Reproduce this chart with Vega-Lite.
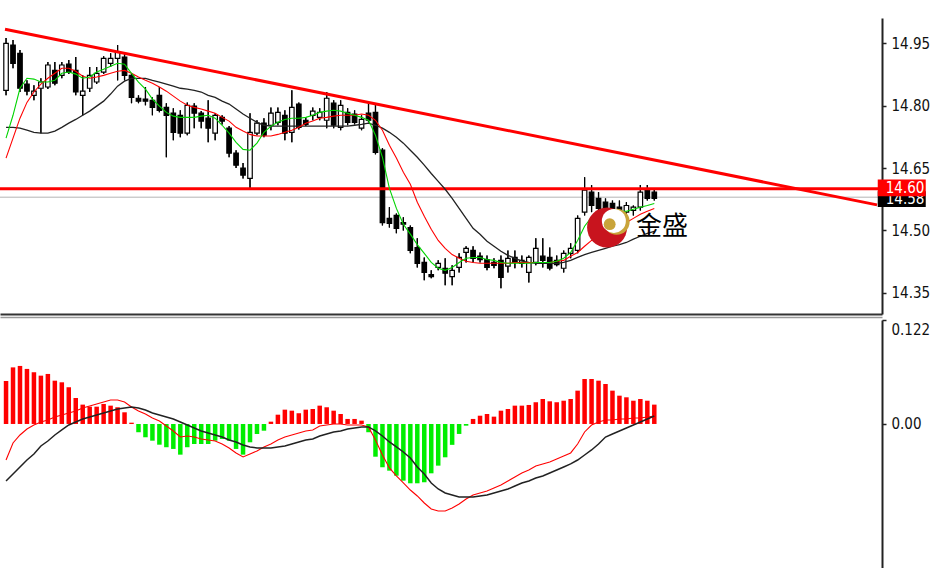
{
  "$schema": "https://vega.github.io/schema/vega-lite/v6.json",
  "background": "white",
  "padding": {"left": 0, "top": 18, "right": 0, "bottom": 0},
  "bounds": "flush",
  "spacing": 6,
  "config": {
    "view": {"stroke": null},
    "axis": {
      "labelFont": "DejaVu Sans Condensed, DejaVu Sans",
      "labelFontSize": 15,
      "labelColor": "#111111",
      "domainColor": "#222222",
      "domainWidth": 2,
      "tickColor": "#222222",
      "tickWidth": 1.5,
      "tickSize": 4,
      "labelPadding": 5,
      "grid": false
    }
  },
  "datasets": {
    "bars": [
      {"i":0,"o":14.837,"h":14.963,"l":14.825,"c":14.950,"fast":14.722,"mid":14.674,"slow":14.748,"hist":0.0505,"dif":-0.0423,"dea":-0.0669},
      {"i":1,"o":14.946,"h":14.958,"l":14.890,"c":14.902,"fast":14.777,"mid":14.722,"slow":14.748,"hist":0.0664,"dif":-0.0223,"dea":-0.0587},
      {"i":2,"o":14.926,"h":14.934,"l":14.833,"c":14.842,"fast":14.842,"mid":14.770,"slow":14.746,"hist":0.0681,"dif":-0.0129,"dea":-0.0505},
      {"i":3,"o":14.852,"h":14.861,"l":14.825,"c":14.835,"fast":14.866,"mid":14.808,"slow":14.741,"hist":0.0646,"dif":-0.0059,"dea":-0.0423},
      {"i":4,"o":14.825,"h":14.849,"l":14.813,"c":14.835,"fast":14.864,"mid":14.833,"slow":14.736,"hist":0.0607,"dif":-0.0012,"dea":-0.0352},
      {"i":5,"o":14.842,"h":14.866,"l":14.734,"c":14.857,"fast":14.857,"mid":14.852,"slow":14.734,"hist":0.0567,"dif":0.0023,"dea":-0.0258},
      {"i":6,"o":14.845,"h":14.905,"l":14.840,"c":14.898,"fast":14.857,"mid":14.866,"slow":14.734,"hist":0.0587,"dif":0.0047,"dea":-0.0200},
      {"i":7,"o":14.885,"h":14.905,"l":14.849,"c":14.854,"fast":14.861,"mid":14.878,"slow":14.739,"hist":0.0508,"dif":0.0082,"dea":-0.0129},
      {"i":8,"o":14.873,"h":14.905,"l":14.866,"c":14.898,"fast":14.878,"mid":14.890,"slow":14.748,"hist":0.0489,"dif":0.0106,"dea":-0.0070},
      {"i":9,"o":14.900,"h":14.910,"l":14.876,"c":14.881,"fast":14.881,"mid":14.890,"slow":14.758,"hist":0.0431,"dif":0.0129,"dea":-0.0012},
      {"i":10,"o":14.885,"h":14.917,"l":14.825,"c":14.833,"fast":14.876,"mid":14.883,"slow":14.767,"hist":0.0305,"dif":0.0153,"dea":0.0023},
      {"i":11,"o":14.825,"h":14.873,"l":14.777,"c":14.835,"fast":14.866,"mid":14.871,"slow":14.777,"hist":0.0227,"dif":0.0188,"dea":0.0059},
      {"i":12,"o":14.842,"h":14.893,"l":14.833,"c":14.873,"fast":14.869,"mid":14.866,"slow":14.787,"hist":0.0203,"dif":0.0211,"dea":0.0082},
      {"i":13,"o":14.857,"h":14.893,"l":14.852,"c":14.878,"fast":14.881,"mid":14.869,"slow":14.799,"hist":0.0203,"dif":0.0235,"dea":0.0106},
      {"i":14,"o":14.881,"h":14.919,"l":14.876,"c":14.914,"fast":14.888,"mid":14.873,"slow":14.811,"hist":0.0235,"dif":0.0258,"dea":0.0129},
      {"i":15,"o":14.902,"h":14.926,"l":14.893,"c":14.914,"fast":14.895,"mid":14.878,"slow":14.828,"hist":0.0215,"dif":0.0282,"dea":0.0153},
      {"i":16,"o":14.914,"h":14.946,"l":14.861,"c":14.929,"fast":14.902,"mid":14.883,"slow":14.847,"hist":0.0196,"dif":0.0282,"dea":0.0176},
      {"i":17,"o":14.917,"h":14.926,"l":14.861,"c":14.873,"fast":14.900,"mid":14.885,"slow":14.859,"hist":0.0137,"dif":0.0258,"dea":0.0188},
      {"i":18,"o":14.873,"h":14.878,"l":14.806,"c":14.820,"fast":14.878,"mid":14.878,"slow":14.866,"hist":0.0015,"dif":0.0200,"dea":0.0200},
      {"i":19,"o":14.818,"h":14.825,"l":14.806,"c":14.811,"fast":14.857,"mid":14.869,"slow":14.866,"hist":-0.0097,"dif":0.0153,"dea":0.0188},
      {"i":20,"o":14.816,"h":14.845,"l":14.801,"c":14.811,"fast":14.840,"mid":14.861,"slow":14.866,"hist":-0.0156,"dif":0.0117,"dea":0.0164},
      {"i":21,"o":14.813,"h":14.820,"l":14.777,"c":14.796,"fast":14.816,"mid":14.854,"slow":14.861,"hist":-0.0196,"dif":0.0070,"dea":0.0129},
      {"i":22,"o":14.825,"h":14.845,"l":14.784,"c":14.789,"fast":14.799,"mid":14.845,"slow":14.857,"hist":-0.0243,"dif":0.0035,"dea":0.0106},
      {"i":23,"o":14.796,"h":14.806,"l":14.676,"c":14.777,"fast":14.784,"mid":14.835,"slow":14.852,"hist":-0.0273,"dif":-0.0023,"dea":0.0082},
      {"i":24,"o":14.782,"h":14.794,"l":14.717,"c":14.736,"fast":14.775,"mid":14.823,"slow":14.847,"hist":-0.0293,"dif":-0.0082,"dea":0.0059},
      {"i":25,"o":14.777,"h":14.789,"l":14.724,"c":14.734,"fast":14.772,"mid":14.811,"slow":14.842,"hist":-0.0360,"dif":-0.0153,"dea":0.0023},
      {"i":26,"o":14.734,"h":14.808,"l":14.729,"c":14.801,"fast":14.772,"mid":14.801,"slow":14.840,"hist":-0.0273,"dif":-0.0141,"dea":-0.0012},
      {"i":27,"o":14.799,"h":14.806,"l":14.746,"c":14.782,"fast":14.772,"mid":14.796,"slow":14.837,"hist":-0.0235,"dif":-0.0153,"dea":-0.0047},
      {"i":28,"o":14.782,"h":14.787,"l":14.746,"c":14.763,"fast":14.775,"mid":14.792,"slow":14.833,"hist":-0.0235,"dif":-0.0176,"dea":-0.0082},
      {"i":29,"o":14.770,"h":14.813,"l":14.712,"c":14.746,"fast":14.777,"mid":14.787,"slow":14.825,"hist":-0.0235,"dif":-0.0188,"dea":-0.0106},
      {"i":30,"o":14.734,"h":14.782,"l":14.717,"c":14.777,"fast":14.770,"mid":14.782,"slow":14.820,"hist":-0.0196,"dif":-0.0200,"dea":-0.0129},
      {"i":31,"o":14.772,"h":14.777,"l":14.755,"c":14.763,"fast":14.753,"mid":14.772,"slow":14.811,"hist":-0.0176,"dif":-0.0235,"dea":-0.0153},
      {"i":32,"o":14.746,"h":14.751,"l":14.676,"c":14.686,"fast":14.734,"mid":14.763,"slow":14.804,"hist":-0.0196,"dif":-0.0282,"dea":-0.0188},
      {"i":33,"o":14.686,"h":14.693,"l":14.650,"c":14.657,"fast":14.712,"mid":14.748,"slow":14.792,"hist":-0.0293,"dif":-0.0340,"dea":-0.0211},
      {"i":34,"o":14.650,"h":14.662,"l":14.625,"c":14.633,"fast":14.695,"mid":14.739,"slow":14.780,"hist":-0.0360,"dif":-0.0387,"dea":-0.0246},
      {"i":35,"o":14.625,"h":14.782,"l":14.597,"c":14.736,"fast":14.693,"mid":14.731,"slow":14.770,"hist":-0.0215,"dif":-0.0352,"dea":-0.0270},
      {"i":36,"o":14.734,"h":14.765,"l":14.729,"c":14.758,"fast":14.710,"mid":14.727,"slow":14.760,"hist":-0.0117,"dif":-0.0317,"dea":-0.0282},
      {"i":37,"o":14.758,"h":14.770,"l":14.724,"c":14.729,"fast":14.736,"mid":14.727,"slow":14.753,"hist":-0.0079,"dif":-0.0270,"dea":-0.0282},
      {"i":38,"o":14.753,"h":14.796,"l":14.741,"c":14.782,"fast":14.751,"mid":14.727,"slow":14.751,"hist":0.0027,"dif":-0.0235,"dea":-0.0282},
      {"i":39,"o":14.760,"h":14.796,"l":14.753,"c":14.784,"fast":14.760,"mid":14.731,"slow":14.751,"hist":0.0109,"dif":-0.0188,"dea":-0.0270},
      {"i":40,"o":14.777,"h":14.789,"l":14.717,"c":14.734,"fast":14.767,"mid":14.736,"slow":14.751,"hist":0.0168,"dif":-0.0153,"dea":-0.0258},
      {"i":41,"o":14.736,"h":14.837,"l":14.712,"c":14.796,"fast":14.770,"mid":14.741,"slow":14.751,"hist":0.0156,"dif":-0.0129,"dea":-0.0235},
      {"i":42,"o":14.804,"h":14.808,"l":14.743,"c":14.748,"fast":14.770,"mid":14.748,"slow":14.751,"hist":0.0126,"dif":-0.0106,"dea":-0.0211},
      {"i":43,"o":14.765,"h":14.772,"l":14.751,"c":14.755,"fast":14.772,"mid":14.758,"slow":14.751,"hist":0.0168,"dif":-0.0082,"dea":-0.0188},
      {"i":44,"o":14.777,"h":14.796,"l":14.765,"c":14.787,"fast":14.777,"mid":14.763,"slow":14.751,"hist":0.0176,"dif":-0.0070,"dea":-0.0176},
      {"i":45,"o":14.772,"h":14.794,"l":14.765,"c":14.784,"fast":14.784,"mid":14.770,"slow":14.751,"hist":0.0215,"dif":-0.0023,"dea":-0.0141},
      {"i":46,"o":14.765,"h":14.833,"l":14.746,"c":14.818,"fast":14.787,"mid":14.772,"slow":14.751,"hist":0.0196,"dif":-0.0012,"dea":-0.0117},
      {"i":47,"o":14.806,"h":14.813,"l":14.746,"c":14.753,"fast":14.789,"mid":14.775,"slow":14.751,"hist":0.0156,"dif":0.0000,"dea":-0.0094},
      {"i":48,"o":14.748,"h":14.813,"l":14.741,"c":14.801,"fast":14.787,"mid":14.777,"slow":14.751,"hist":0.0117,"dif":0.0000,"dea":-0.0082},
      {"i":49,"o":14.784,"h":14.794,"l":14.753,"c":14.760,"fast":14.782,"mid":14.777,"slow":14.751,"hist":0.0059,"dif":-0.0012,"dea":-0.0059},
      {"i":50,"o":14.780,"h":14.789,"l":14.755,"c":14.760,"fast":14.777,"mid":14.777,"slow":14.753,"hist":0.0059,"dif":-0.0012,"dea":-0.0047},
      {"i":51,"o":14.746,"h":14.777,"l":14.741,"c":14.767,"fast":14.772,"mid":14.780,"slow":14.755,"hist":0.0039,"dif":-0.0012,"dea":-0.0035},
      {"i":52,"o":14.782,"h":14.806,"l":14.760,"c":14.765,"fast":14.765,"mid":14.777,"slow":14.758,"hist":-0.0097,"dif":-0.0035,"dea":-0.0035},
      {"i":53,"o":14.784,"h":14.806,"l":14.683,"c":14.688,"fast":14.729,"mid":14.765,"slow":14.753,"hist":-0.0384,"dif":-0.0188,"dea":-0.0082},
      {"i":54,"o":14.693,"h":14.698,"l":14.512,"c":14.519,"fast":14.676,"mid":14.741,"slow":14.746,"hist":-0.0508,"dif":-0.0364,"dea":-0.0141},
      {"i":55,"o":14.529,"h":14.556,"l":14.507,"c":14.517,"fast":14.601,"mid":14.705,"slow":14.736,"hist":-0.0548,"dif":-0.0516,"dea":-0.0211},
      {"i":56,"o":14.536,"h":14.541,"l":14.493,"c":14.505,"fast":14.553,"mid":14.674,"slow":14.724,"hist":-0.0607,"dif":-0.0610,"dea":-0.0270},
      {"i":57,"o":14.519,"h":14.532,"l":14.500,"c":14.515,"fast":14.515,"mid":14.640,"slow":14.710,"hist":-0.0665,"dif":-0.0692,"dea":-0.0329},
      {"i":58,"o":14.507,"h":14.512,"l":14.445,"c":14.452,"fast":14.491,"mid":14.611,"slow":14.693,"hist":-0.0696,"dif":-0.0775,"dea":-0.0399},
      {"i":59,"o":14.459,"h":14.481,"l":14.411,"c":14.421,"fast":14.466,"mid":14.568,"slow":14.676,"hist":-0.0696,"dif":-0.0845,"dea":-0.0505},
      {"i":60,"o":14.423,"h":14.435,"l":14.380,"c":14.399,"fast":14.445,"mid":14.534,"slow":14.657,"hist":-0.0684,"dif":-0.0927,"dea":-0.0587},
      {"i":61,"o":14.394,"h":14.404,"l":14.385,"c":14.389,"fast":14.423,"mid":14.503,"slow":14.637,"hist":-0.0579,"dif":-0.0998,"dea":-0.0692},
      {"i":62,"o":14.411,"h":14.428,"l":14.404,"c":14.421,"fast":14.409,"mid":14.476,"slow":14.618,"hist":-0.0489,"dif":-0.1021,"dea":-0.0763},
      {"i":63,"o":14.409,"h":14.433,"l":14.368,"c":14.397,"fast":14.404,"mid":14.457,"slow":14.599,"hist":-0.0391,"dif":-0.1021,"dea":-0.0810},
      {"i":64,"o":14.389,"h":14.416,"l":14.368,"c":14.404,"fast":14.411,"mid":14.442,"slow":14.577,"hist":-0.0245,"dif":-0.0986,"dea":-0.0833},
      {"i":65,"o":14.411,"h":14.445,"l":14.399,"c":14.435,"fast":14.423,"mid":14.433,"slow":14.553,"hist":-0.0117,"dif":-0.0939,"dea":-0.0857},
      {"i":66,"o":14.447,"h":14.462,"l":14.423,"c":14.457,"fast":14.433,"mid":14.426,"slow":14.529,"hist":-0.0020,"dif":-0.0880,"dea":-0.0857},
      {"i":67,"o":14.452,"h":14.462,"l":14.423,"c":14.433,"fast":14.435,"mid":14.423,"slow":14.505,"hist":0.0059,"dif":-0.0833,"dea":-0.0857},
      {"i":68,"o":14.438,"h":14.447,"l":14.423,"c":14.430,"fast":14.435,"mid":14.421,"slow":14.491,"hist":0.0097,"dif":-0.0810,"dea":-0.0845},
      {"i":69,"o":14.430,"h":14.440,"l":14.404,"c":14.411,"fast":14.430,"mid":14.421,"slow":14.474,"hist":0.0117,"dif":-0.0786,"dea":-0.0833},
      {"i":70,"o":14.423,"h":14.433,"l":14.409,"c":14.416,"fast":14.428,"mid":14.421,"slow":14.462,"hist":0.0086,"dif":-0.0751,"dea":-0.0810},
      {"i":71,"o":14.428,"h":14.440,"l":14.361,"c":14.387,"fast":14.423,"mid":14.421,"slow":14.450,"hist":0.0156,"dif":-0.0716,"dea":-0.0786},
      {"i":72,"o":14.414,"h":14.452,"l":14.399,"c":14.433,"fast":14.421,"mid":14.421,"slow":14.440,"hist":0.0176,"dif":-0.0669,"dea":-0.0763},
      {"i":73,"o":14.435,"h":14.452,"l":14.409,"c":14.423,"fast":14.421,"mid":14.423,"slow":14.433,"hist":0.0215,"dif":-0.0622,"dea":-0.0728},
      {"i":74,"o":14.421,"h":14.440,"l":14.411,"c":14.428,"fast":14.421,"mid":14.423,"slow":14.426,"hist":0.0215,"dif":-0.0575,"dea":-0.0692},
      {"i":75,"o":14.399,"h":14.440,"l":14.375,"c":14.435,"fast":14.421,"mid":14.423,"slow":14.423,"hist":0.0223,"dif":-0.0540,"dea":-0.0669},
      {"i":76,"o":14.423,"h":14.481,"l":14.416,"c":14.457,"fast":14.423,"mid":14.423,"slow":14.421,"hist":0.0255,"dif":-0.0493,"dea":-0.0634},
      {"i":77,"o":14.438,"h":14.481,"l":14.411,"c":14.428,"fast":14.423,"mid":14.423,"slow":14.421,"hist":0.0293,"dif":-0.0469,"dea":-0.0610},
      {"i":78,"o":14.435,"h":14.459,"l":14.404,"c":14.409,"fast":14.423,"mid":14.423,"slow":14.421,"hist":0.0266,"dif":-0.0446,"dea":-0.0575},
      {"i":79,"o":14.428,"h":14.440,"l":14.414,"c":14.418,"fast":14.426,"mid":14.426,"slow":14.421,"hist":0.0255,"dif":-0.0411,"dea":-0.0540},
      {"i":80,"o":14.409,"h":14.452,"l":14.399,"c":14.445,"fast":14.433,"mid":14.428,"slow":14.423,"hist":0.0273,"dif":-0.0376,"dea":-0.0505},
      {"i":81,"o":14.445,"h":14.469,"l":14.433,"c":14.457,"fast":14.447,"mid":14.438,"slow":14.428,"hist":0.0293,"dif":-0.0340,"dea":-0.0469},
      {"i":82,"o":14.452,"h":14.536,"l":14.445,"c":14.529,"fast":14.476,"mid":14.447,"slow":14.435,"hist":0.0391,"dif":-0.0235,"dea":-0.0423},
      {"i":83,"o":14.544,"h":14.628,"l":14.536,"c":14.597,"fast":14.510,"mid":14.462,"slow":14.442,"hist":0.0528,"dif":-0.0094,"dea":-0.0364},
      {"i":84,"o":14.592,"h":14.609,"l":14.544,"c":14.560,"fast":14.532,"mid":14.476,"slow":14.447,"hist":0.0528,"dif":-0.0012,"dea":-0.0305},
      {"i":85,"o":14.577,"h":14.592,"l":14.544,"c":14.553,"fast":14.541,"mid":14.486,"slow":14.452,"hist":0.0508,"dif":0.0023,"dea":-0.0235},
      {"i":86,"o":14.568,"h":14.577,"l":14.536,"c":14.544,"fast":14.546,"mid":14.495,"slow":14.457,"hist":0.0469,"dif":0.0047,"dea":-0.0153},
      {"i":87,"o":14.565,"h":14.572,"l":14.532,"c":14.541,"fast":14.546,"mid":14.505,"slow":14.462,"hist":0.0391,"dif":0.0047,"dea":-0.0117},
      {"i":88,"o":14.556,"h":14.572,"l":14.524,"c":14.534,"fast":14.546,"mid":14.512,"slow":14.466,"hist":0.0332,"dif":0.0059,"dea":-0.0082},
      {"i":89,"o":14.544,"h":14.568,"l":14.532,"c":14.560,"fast":14.546,"mid":14.519,"slow":14.471,"hist":0.0313,"dif":0.0059,"dea":-0.0047},
      {"i":90,"o":14.548,"h":14.560,"l":14.536,"c":14.556,"fast":14.551,"mid":14.529,"slow":14.479,"hist":0.0273,"dif":0.0070,"dea":-0.0012},
      {"i":91,"o":14.556,"h":14.609,"l":14.548,"c":14.592,"fast":14.556,"mid":14.539,"slow":14.486,"hist":0.0293,"dif":0.0070,"dea":0.0023},
      {"i":92,"o":14.597,"h":14.609,"l":14.572,"c":14.577,"fast":14.560,"mid":14.546,"slow":14.493,"hist":0.0273,"dif":0.0082,"dea":0.0059},
      {"i":93,"o":14.592,"h":14.597,"l":14.572,"c":14.577,"fast":14.565,"mid":14.553,"slow":14.498,"hist":0.0227,"dif":0.0094,"dea":0.0094}
    ]
  },
  "vconcat": [
    {
      "width": 882,
      "height": 296,
      "data": {"name": "bars"},
      "layer": [
        {
          "mark": {"type": "rule", "color": "#000000", "strokeWidth": 1.2, "clip": true},
          "encoding": {
            "x": {"field": "i", "type": "quantitative", "title": null, "scale": {"domain": [-0.15, 124.95], "nice": false, "zero": false},
                  "axis": {"orient": "bottom", "labels": false, "ticks": false, "title": null, "domainColor": "#333333", "domainWidth": 2}},
            "y": {"field": "l", "type": "quantitative", "title": null, "scale": {"domain": [14.299, 15.011], "nice": false, "zero": false},
                  "axis": {"orient": "right", "values": [14.35, 14.5, 14.65, 14.8, 14.95], "format": ".2f", "title": null}},
            "y2": {"field": "h"}
          }
        },
        {
          "data": {"values": [{"p": 14.58}]},
          "mark": {"type": "rule", "color": "#b4b4b4", "strokeWidth": 1, "clip": true},
          "encoding": {
            "y": {"field": "p", "type": "quantitative", "title": null}
          }
        },
        {
          "mark": {"type": "rule", "color": "#000000", "strokeWidth": 1.2, "clip": true},
          "encoding": {
            "x": {"field": "i", "type": "quantitative", "title": null},
            "y": {"field": "l", "type": "quantitative", "title": null},
            "y2": {"field": "h"}
          }
        },
        {
          "mark": {"type": "bar", "size": 4.5, "stroke": "#000000", "strokeWidth": 1.2, "clip": true, "orient": "vertical"},
          "encoding": {
            "x": {"field": "i", "type": "quantitative", "title": null},
            "y": {"field": "o", "type": "quantitative", "title": null},
            "y2": {"field": "c"},
            "fill": {"condition": {"test": "datum.c > datum.o", "value": "#ffffff"}, "value": "#000000"}
          }
        },
        {
          "data": {"values": [{"p": 14.60}]},
          "mark": {"type": "rule", "color": "#ff0000", "strokeWidth": 3, "clip": true},
          "encoding": {
            "y": {"field": "p", "type": "quantitative", "title": null}
          }
        },
        {
          "data": {"values": [{"i0": -0.15, "p0": 14.984, "i1": 124.95, "p1": 14.5615}]},
          "mark": {"type": "rule", "color": "#ff0000", "strokeWidth": 3, "clip": true},
          "encoding": {
            "x": {"field": "i0", "type": "quantitative", "title": null},
            "x2": {"field": "i1"},
            "y": {"field": "p0", "type": "quantitative", "title": null},
            "y2": {"field": "p1"}
          }
        },
        {
          "mark": {"type": "line", "color": "#222222", "strokeWidth": 1.3, "clip": true},
          "encoding": {
            "x": {"field": "i", "type": "quantitative", "title": null},
            "y": {"field": "slow", "type": "quantitative", "title": null}
          }
        },
        {
          "mark": {"type": "line", "color": "#ff0000", "strokeWidth": 1.1, "clip": true},
          "encoding": {
            "x": {"field": "i", "type": "quantitative", "title": null},
            "y": {"field": "mid", "type": "quantitative", "title": null}
          }
        },
        {
          "mark": {"type": "line", "color": "#00d400", "strokeWidth": 1.1, "clip": true},
          "encoding": {
            "x": {"field": "i", "type": "quantitative", "title": null},
            "y": {"field": "fast", "type": "quantitative", "title": null}
          }
        },
        {
          "data": {"values": [{"p": 14.58}]},
          "mark": {"type": "point", "shape": "M-1,-0.33H1V0.33H-1Z", "size": 2304, "filled": true, "opacity": 1, "color": "#000000", "yOffset": 2},
          "encoding": {
            "x": {"datum": 128.5, "type": "quantitative", "title": null},
            "y": {"field": "p", "type": "quantitative", "title": null}
          }
        },
        {
          "data": {"values": [{"p": 14.58}]},
          "mark": {"type": "text", "align": "left", "baseline": "middle", "font": "DejaVu Sans Condensed, DejaVu Sans", "fontSize": 15, "color": "#ffffff", "dy": 2},
          "encoding": {
            "x": {"datum": 126.2, "type": "quantitative", "title": null},
            "y": {"field": "p", "type": "quantitative", "title": null},
            "text": {"field": "p", "type": "quantitative", "format": ".2f"}
          }
        },
        {
          "data": {"values": [{"p": 14.60}]},
          "mark": {"type": "point", "shape": "M-1,-0.35H1V0.35H-1Z", "size": 2304, "filled": true, "opacity": 1, "color": "#ff0000", "yOffset": -1},
          "encoding": {
            "x": {"datum": 128.5, "type": "quantitative", "title": null},
            "y": {"field": "p", "type": "quantitative", "title": null}
          }
        },
        {
          "data": {"values": [{"p": 14.60}]},
          "mark": {"type": "text", "align": "left", "baseline": "middle", "font": "DejaVu Sans Condensed, DejaVu Sans", "fontSize": 15, "color": "#ffffff", "dy": -1},
          "encoding": {
            "x": {"datum": 126.2, "type": "quantitative", "title": null},
            "y": {"field": "p", "type": "quantitative", "title": null},
            "text": {"field": "p", "type": "quantitative", "format": ".2f"}
          }
        },
        {
          "data": {"values": [{}]},
          "mark": {"type": "point", "shape": "circle", "size": 1600, "filled": true, "opacity": 1, "color": "#c8141e"},
          "encoding": {
            "x": {"datum": 86.23, "type": "quantitative", "title": null},
            "y": {"datum": 14.507, "type": "quantitative", "title": null}
          }
        },
        {
          "data": {"values": [{}]},
          "mark": {"type": "point", "shape": "circle", "size": 676, "filled": true, "opacity": 1, "color": "#c9a43a"},
          "encoding": {
            "x": {"datum": 87.6, "type": "quantitative", "title": null},
            "y": {"datum": 14.521, "type": "quantitative", "title": null}
          }
        },
        {
          "data": {"values": [{}]},
          "mark": {"type": "point", "shape": "circle", "size": 576, "filled": true, "opacity": 1, "color": "#ffffff"},
          "encoding": {
            "x": {"datum": 87.2, "type": "quantitative", "title": null},
            "y": {"datum": 14.523, "type": "quantitative", "title": null}
          }
        },
        {
          "data": {"values": [{}]},
          "mark": {"type": "point", "shape": "circle", "size": 140, "filled": true, "opacity": 1, "color": "#c9a43a"},
          "encoding": {
            "x": {"datum": 86.6, "type": "quantitative", "title": null},
            "y": {"datum": 14.515, "type": "quantitative", "title": null}
          }
        },
        {
          "data": {"values": [{"brand": "金盛"}]},
          "mark": {"type": "text", "align": "center", "baseline": "middle", "font": "Noto Sans CJK SC", "fontSize": 26, "color": "#000000"},
          "encoding": {
            "x": {"datum": 94.1, "type": "quantitative", "title": null},
            "y": {"datum": 14.509, "type": "quantitative", "title": null},
            "text": {"field": "brand"}
          }
        }
      ]
    },
    {
      "width": 882,
      "height": 248,
      "data": {"name": "bars"},
      "layer": [
        {
          "mark": {"type": "bar", "size": 4.5, "clip": true, "orient": "vertical"},
          "encoding": {
            "x": {"field": "i", "type": "quantitative", "title": null, "scale": {"domain": [-0.15, 124.95], "nice": false, "zero": false},
                  "axis": {"orient": "top", "labels": false, "ticks": false, "title": null, "offset": 3, "domainColor": "#9a9a9a", "domainWidth": 1.5}},
            "y": {"field": "hist", "type": "quantitative", "title": null, "scale": {"domain": [-0.169, 0.122], "nice": false, "zero": false},
                  "axis": {"orient": "right", "values": [0, 0.122], "title": null,
                           "labelExpr": "datum.value == 0 ? '0.00' : format(datum.value, '.3f')",
                           "labelBaseline": {"condition": {"test": "datum.value > 0.1", "value": "top"}, "value": "middle"},
                           "labelOffset": {"condition": {"test": "datum.value > 0.1", "value": 2}, "value": 0}}},
            "y2": {"datum": 0},
            "color": {"condition": {"test": "datum.hist >= 0", "value": "#ff0000"}, "value": "#00ee00"}
          }
        },
        {
          "mark": {"type": "line", "color": "#ff0000", "strokeWidth": 1.1, "clip": true},
          "encoding": {
            "x": {"field": "i", "type": "quantitative", "title": null},
            "y": {"field": "dif", "type": "quantitative", "title": null}
          }
        },
        {
          "mark": {"type": "line", "color": "#222222", "strokeWidth": 1.5, "clip": true},
          "encoding": {
            "x": {"field": "i", "type": "quantitative", "title": null},
            "y": {"field": "dea", "type": "quantitative", "title": null}
          }
        }
      ]
    }
  ]
}
